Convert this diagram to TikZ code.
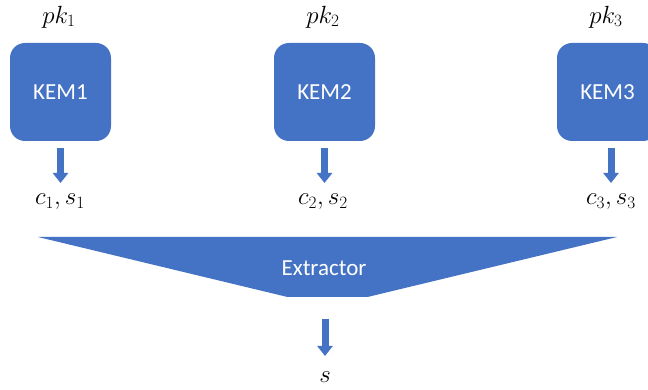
\documentclass[tikz,border=0pt]{standalone}
\usepackage{fontspec}
\setsansfont{Carlito}
\usetikzlibrary{arrows.meta}
\definecolor{officeblue}{HTML}{4472C4}
\tikzset{
  kembox/.style={fill=officeblue, draw=none, rounded corners=15pt, minimum width=101pt, minimum height=98pt,
    inner sep=0pt, text=white, font=\sffamily\fontsize{23}{26}\selectfont},
  mlabel/.style={inner sep=0pt, font=\fontsize{25}{28}\selectfont},
  bigarrow/.style={draw=officeblue, line width=7pt, -{Triangle[width=15pt,length=10pt]}},
  wtext/.style={text=white, font=\sffamily\fontsize{23}{26}\selectfont, inner sep=0pt}
}
\begin{document}
\begin{tikzpicture}[x=1pt,y=1pt]
\useasboundingbox (0,0) rectangle (648,390);
\clip (0,0) rectangle (648,390);
\fill[white] (0,0) rectangle (648,390);
% KEM boxes
\node[kembox] (k1) at (60.5,298) {KEM1};
\node[kembox] (k2) at (324.5,298) {KEM2};
\node[kembox] (k3) at (607.5,298) {KEM3};
% public keys
\node[mlabel] (pk1) at (59,373) {$pk_1$};
\node[mlabel] (pk2) at (323,373) {$pk_2$};
\node[mlabel] (pk3) at (606,373) {$pk_3$};
% outputs
\node[mlabel] (o1) at (60,188) {$c_1,s_1$};
\node[mlabel] (o2) at (323,188) {$c_2,s_2$};
\node[mlabel] (o3) at (611,188) {$c_3,s_3$};
% arrows
\coordinate (a1s) at (60.5,242); \coordinate (a1e) at (60.5,207);
\coordinate (a2s) at (324.5,242); \coordinate (a2e) at (324.5,207);
\coordinate (a3s) at (611,242); \coordinate (a3e) at (611,207);
\draw[bigarrow] (a1s) -- (a1e);
\draw[bigarrow] (a2s) -- (a2e);
\draw[bigarrow] (a3s) -- (a3e);
% extractor
\coordinate (tl) at (38,153);
\coordinate (tr) at (617,153);
\coordinate (br) at (367.5,93);
\coordinate (bl) at (287.5,93);
\fill[officeblue] (tl) -- (tr) -- (br) -- (bl) -- cycle;
\node[wtext] (ext) at (324,122) {Extractor};
% final
\node[mlabel] (s) at (325,13) {$s$};
\coordinate (fs) at (325,71);
\coordinate (fe) at (325,34);
\draw[bigarrow] (fs) -- (fe);
\end{tikzpicture}
\end{document}
